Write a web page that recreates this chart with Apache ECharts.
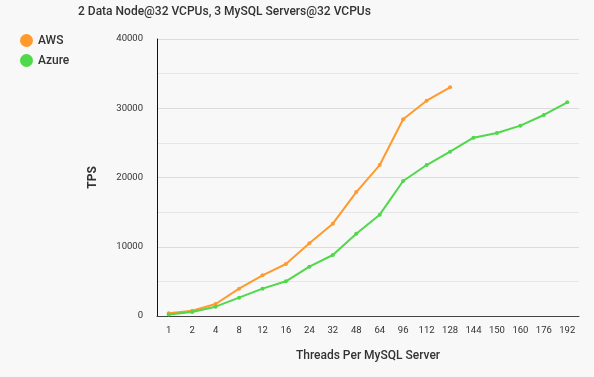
<!DOCTYPE html>
<html>
<head>
<meta charset="utf-8">
<script src="https://cdn.jsdelivr.net/npm/echarts@6/dist/echarts.min.js"></script>
<style>
  html, body { margin: 0; padding: 0; background: #f8f8f8; }
  #chart { width: 594px; height: 377px; }
</style>
</head>
<body>
<div id="chart"></div>
<script>
// threads per MySQL server
const threads = ['1', '2', '4', '8', '12', '16', '24', '32', '48', '64', '96', '112', '128', '144', '150', '160', '176', '192'];

// TPS
const awsTps = [400, 770, 1730, 3950, 5870, 7510, 10490, 13330, 17900, 21800, 28400, 31090, 33020];
const azureTps = [200, 580, 1350, 2650, 3950, 5010, 7120, 8810, 11890, 14630, 19490, 21800, 23730, 25750, 26430, 27490, 29030, 30860];

const font = 'Roboto';
const myChart = echarts.init(document.getElementById('chart'));

const option = {
  backgroundColor: '#f8f8f8',
  textStyle: { fontFamily: font },
  title: {
    text: '2 Data Node@32 VCPUs, 3 MySQL Servers@32 VCPUs',
    left: 73,
    top: 1,
    textStyle: { fontSize: 12, fontWeight: 500, color: '#333', fontFamily: font }
  },
  legend: {
    orient: 'vertical',
    left: 15,
    top: 29,
    itemWidth: 13,
    itemHeight: 13,
    itemGap: 7,
    icon: 'circle',
    textStyle: { fontSize: 12, fontWeight: 500, color: '#333', fontFamily: font },
    data: ['AWS', 'Azure']
  },
  grid: { left: 157, right: 15, top: 39, bottom: 61 },
  xAxis: {
    type: 'category',
    data: threads,
    name: 'Threads Per MySQL Server',
    nameLocation: 'middle',
    nameGap: 34,
    nameTextStyle: { fontSize: 12, fontWeight: 500, color: '#333' },
    axisLine: { lineStyle: { color: '#444', width: 1 } },
    axisTick: { show: false },
    axisLabel: { fontSize: 9.5, color: '#333', margin: 10 }
  },
  yAxis: {
    type: 'value',
    min: 0,
    max: 40000,
    interval: 10000,
    name: 'TPS',
    nameLocation: 'middle',
    nameGap: 58,
    nameTextStyle: { fontSize: 12, fontWeight: 'bold', color: '#333' },
    axisLine: { show: true, lineStyle: { color: '#111', width: 1 } },
    axisTick: { show: false },
    axisLabel: { fontSize: 9.5, color: '#333', margin: 14, formatter: v => String(v) },
    splitLine: { lineStyle: { color: '#dcdcdc' } },
    minorTick: { show: false, splitNumber: 2 },
    minorSplitLine: { show: true, lineStyle: { color: '#e6e6e6' } }
  },
  series: [
    {
      name: 'AWS',
      type: 'line',
      data: awsTps,
      symbol: 'circle',
      symbolSize: 4,
      itemStyle: { color: '#ff9a2e' },
      lineStyle: { width: 2, color: '#ff9a2e' }
    },
    {
      name: 'Azure',
      type: 'line',
      data: azureTps,
      symbol: 'circle',
      symbolSize: 4,
      itemStyle: { color: '#4fd84a' },
      lineStyle: { width: 2, color: '#4fd84a' }
    }
  ]
};

myChart.setOption(option);
</script>
</body>
</html>
